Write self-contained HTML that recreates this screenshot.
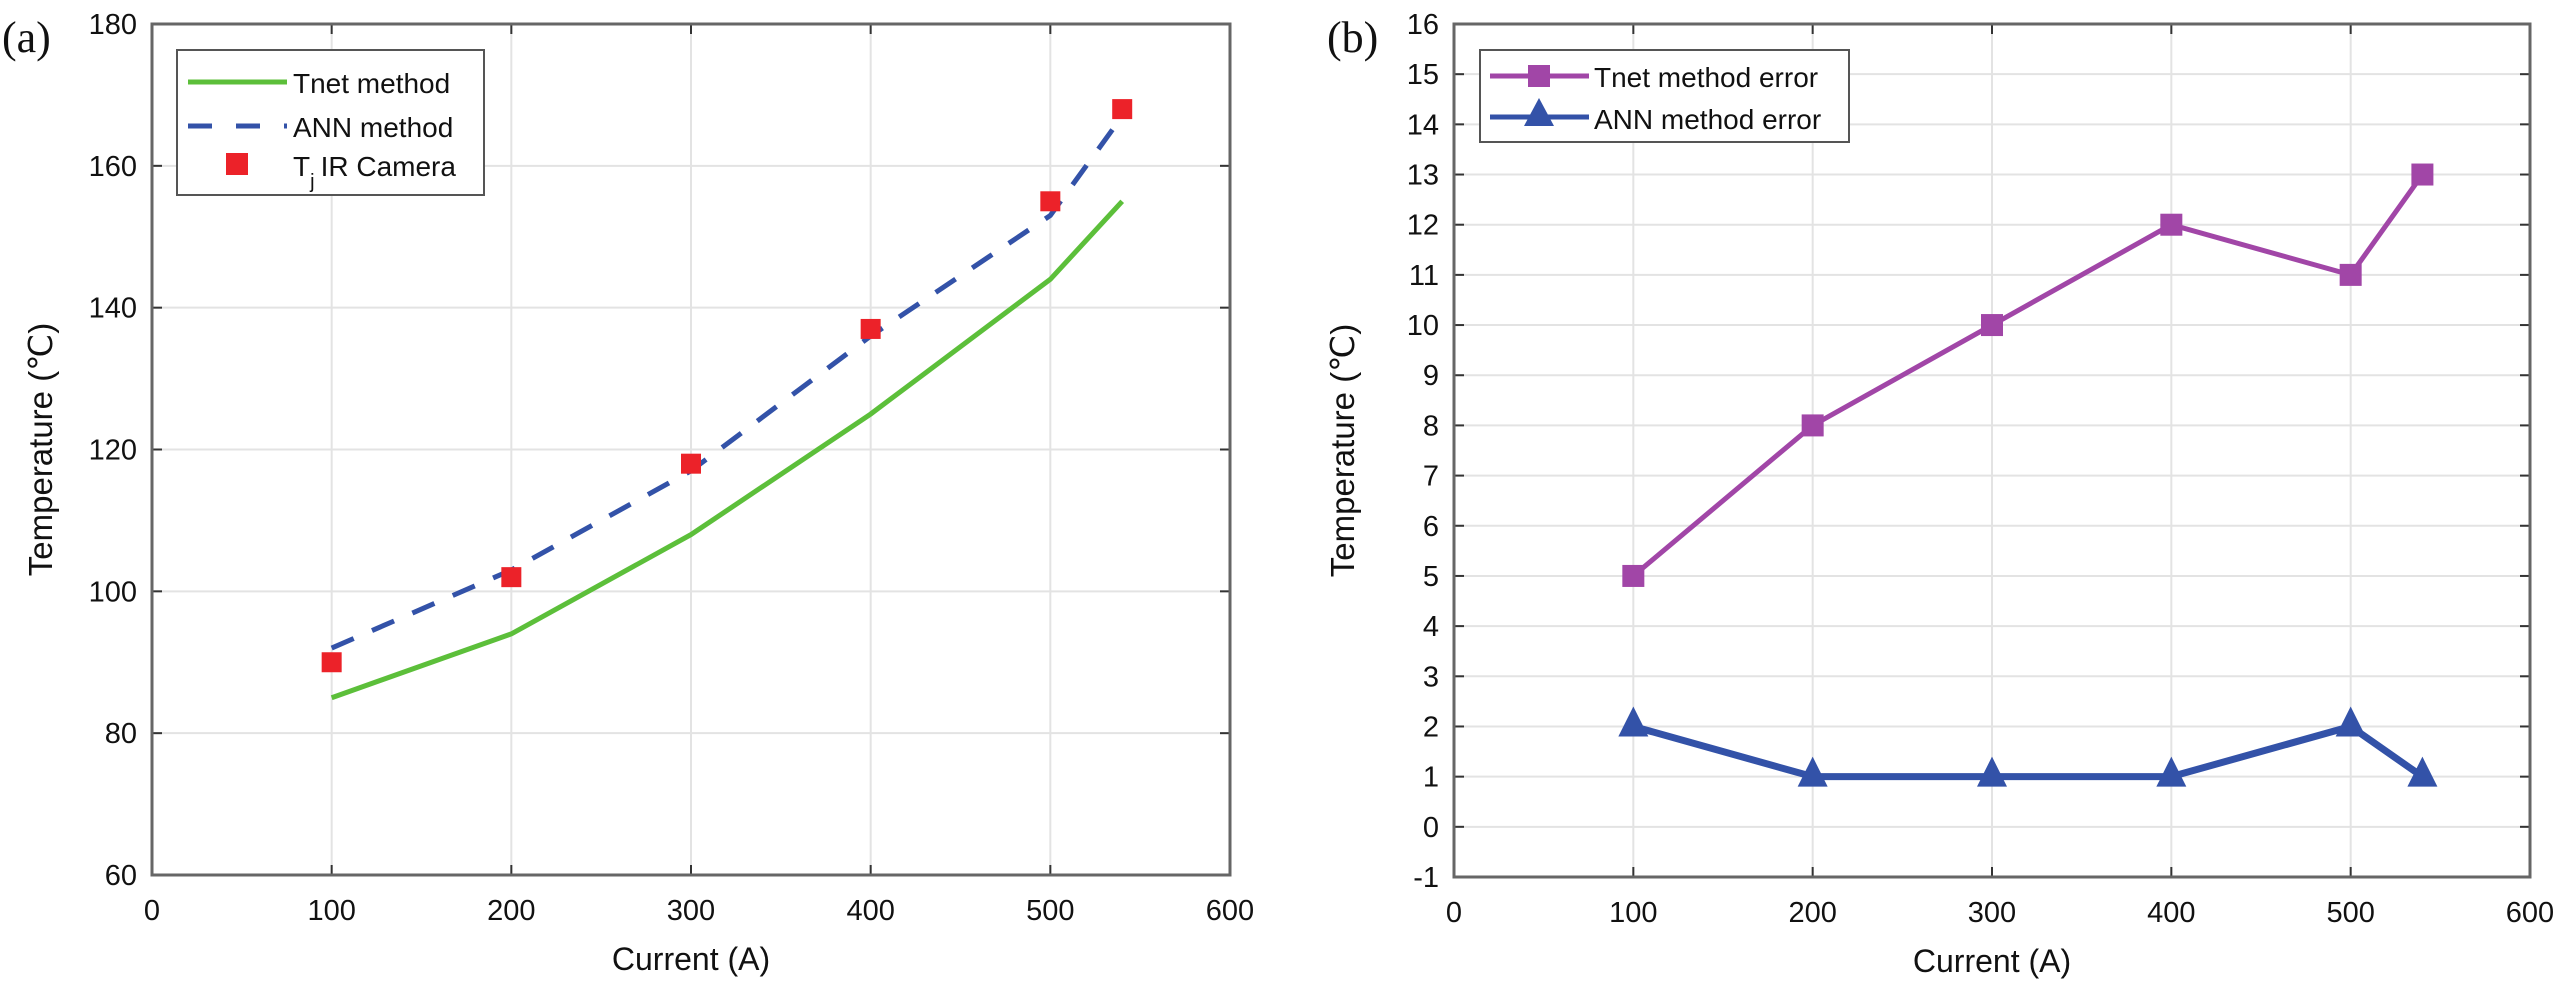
<!DOCTYPE html>
<html><head><meta charset="utf-8"><style>
html,body{margin:0;padding:0;background:#fff;}
svg{display:block;font-family:"Liberation Sans",Arial,sans-serif;}
</style></head><body>
<svg id="fig" width="2559" height="991" viewBox="0 0 2559 991" xmlns="http://www.w3.org/2000/svg"></svg>
<script>
const xCategories = [100, 200, 300, 400, 500, 540];
const tnetTemp = [85, 94, 108, 125, 144, 155];
const annTemp = [92, 103, 117, 136, 153, 167];
const irTemp = [90, 102, 118, 137, 155, 168];
const tnetErr = [5, 8, 10, 12, 11, 13];
const annErr = [2, 1, 1, 1, 2, 1];
const xTicks = [0, 100, 200, 300, 400, 500, 600];
const yTicksA = [60, 80, 100, 120, 140, 160, 180];
const yTicksB = [-1,0,1,2,3,4,5,6,7,8,9,10,11,12,13,14,15,16];

const NS = "http://www.w3.org/2000/svg";
const svg = document.getElementById('fig');
function mk(tag, attrs, parent, text){
  const e = document.createElementNS(NS, tag);
  for (const k in attrs) e.setAttribute(k, attrs[k]);
  if (text !== undefined) e.textContent = text;
  (parent||svg).appendChild(e);
  return e;
}
function axes(name, L, R, T, B, xmin, xmax, ymin, ymax, yt, panelLabel, plx){
  const g = mk('g', {});
  
  
  const sx = v => L + (v - xmin) / (xmax - xmin) * (R - L);
  const sy = v => B - (v - ymin) / (ymax - ymin) * (B - T);
  mk('rect', {x:L, y:T, width:R-L, height:B-T, fill:'#fff'}, g);
  xTicks.forEach(t => {
    if (t > xmin && t < xmax) mk('line', {x1:sx(t), x2:sx(t), y1:T, y2:B, stroke:'#e3e3e3', 'stroke-width':2}, g);
    mk('line', {x1:sx(t), x2:sx(t), y1:B, y2:B-10, stroke:'#333', 'stroke-width':2}, g);
    mk('line', {x1:sx(t), x2:sx(t), y1:T, y2:T+10, stroke:'#333', 'stroke-width':2}, g);
    const tl = mk('text', {x:sx(t), y:B+45, 'text-anchor':'middle', 'font-size':29, fill:'#111'}, g, String(t));
    
    
  });
  yt.forEach(t => {
    if (t > ymin && t < ymax) mk('line', {x1:L, x2:R, y1:sy(t), y2:sy(t), stroke:'#e3e3e3', 'stroke-width':2}, g);
    mk('line', {x1:L, x2:L+10, y1:sy(t), y2:sy(t), stroke:'#333', 'stroke-width':2}, g);
    mk('line', {x1:R, x2:R-10, y1:sy(t), y2:sy(t), stroke:'#333', 'stroke-width':2}, g);
    const tl = mk('text', {x:L-15, y:sy(t)+10, 'text-anchor':'end', 'font-size':29, fill:'#111'}, g, String(t));
    
    
  });
  mk('rect', {x:L, y:T, width:R-L, height:B-T, fill:'none', stroke:'#666', 'stroke-width':3}, g);
  const xl = mk('text', {x:(L+R)/2, y:B+95, 'text-anchor':'middle', 'font-size':32, fill:'#111'}, g, 'Current (A)');
  
  
  const cy = (T+B)/2, cx = L-100;
  const yl = mk('text', {x:cx, y:cy, 'text-anchor':'middle', 'font-size':33, fill:'#111', transform:`rotate(-90 ${cx} ${cy})`}, g, 'Temperature (℃)');
  
  
  const pl = mk('text', {x:plx, y:52, 'font-size':44, 'font-family':'"Liberation Serif",serif', fill:'#111'}, g, panelLabel);
  
  
  return {g, sx, sy};
}
function poly(g, sx, sy, ys, attrs, name){
  const pts = xCategories.map((x,i) => sx(x)+','+sy(ys[i])).join(' ');
  const p = mk('polyline', Object.assign({points:pts, fill:'none'}, attrs), g);
  
  
}
// Panel (a)
const A = axes('panel-a', 152, 1230, 24, 875, 0, 600, 60, 180, yTicksA, '(a)', 2);
poly(A.g, A.sx, A.sy, tnetTemp, {stroke:'#5cbf3a', 'stroke-width':5}, 'tnet-line');
poly(A.g, A.sx, A.sy, annTemp, {stroke:'#3352a8', 'stroke-width':5, 'stroke-dasharray':'24 20'}, 'ann-line');
xCategories.forEach((x,i) => {
  const r = mk('rect', {x:A.sx(x)-10, y:A.sy(irTemp[i])-10, width:20, height:20, fill:'#ec2229'}, A.g);
  
  
});
// legend a
const la = mk('g', {});


mk('rect', {x:177, y:50, width:307, height:145, fill:'#fff', stroke:'#555', 'stroke-width':2}, la);
mk('line', {x1:188, x2:287, y1:82, y2:82, stroke:'#5cbf3a', 'stroke-width':5}, la);
mk('text', {x:293, y:93, 'font-size':28, fill:'#111'}, la, 'Tnet method');
mk('line', {x1:188, x2:287, y1:126, y2:126, stroke:'#3352a8', 'stroke-width':5, 'stroke-dasharray':'24 24'}, la);
mk('text', {x:293, y:137, 'font-size':28, fill:'#111'}, la, 'ANN method');
mk('rect', {x:226, y:153, width:22, height:22, fill:'#ec2229'}, la);
const tj = mk('text', {x:293, y:176, 'font-size':28, fill:'#111'}, la, 'T');
mk('tspan', {dy:12, 'font-size':20}, tj, 'j');
mk('tspan', {dy:-12, dx:6}, tj, 'IR Camera');

// Panel (b)
const B = axes('panel-b', 1454, 2530, 24, 877, 0, 600, -1, 16, yTicksB, '(b)', 1327);
poly(B.g, B.sx, B.sy, tnetErr, {stroke:'#a146a7', 'stroke-width':5}, 'tnet-error-line');
poly(B.g, B.sx, B.sy, annErr, {stroke:'#3352a8', 'stroke-width':7}, 'ann-error-line');
xCategories.forEach((x,i) => {
  const r = mk('rect', {x:B.sx(x)-11, y:B.sy(tnetErr[i])-11, width:22, height:22, fill:'#a146a7'}, B.g);
  
  
  const cx = B.sx(x), cy = B.sy(annErr[i]);
  const t = mk('polygon', {points:`${cx},${cy-20} ${cx-15},${cy+10} ${cx+15},${cy+10}`, fill:'#3352a8'}, B.g);
  
  
});
const lb = mk('g', {});


mk('rect', {x:1480, y:50, width:369, height:92, fill:'#fff', stroke:'#555', 'stroke-width':2}, lb);
mk('line', {x1:1490, x2:1589, y1:76, y2:76, stroke:'#a146a7', 'stroke-width':5}, lb);
mk('rect', {x:1528, y:65, width:22, height:22, fill:'#a146a7'}, lb);
mk('text', {x:1594, y:87, 'font-size':28, fill:'#111'}, lb, 'Tnet method error');
mk('line', {x1:1490, x2:1589, y1:117, y2:117, stroke:'#3352a8', 'stroke-width':5}, lb);
mk('polygon', {points:'1539,98 1524,126 1554,126', fill:'#3352a8'}, lb);
mk('text', {x:1594, y:129, 'font-size':28, fill:'#111'}, lb, 'ANN method error');
</script>
</body></html>
